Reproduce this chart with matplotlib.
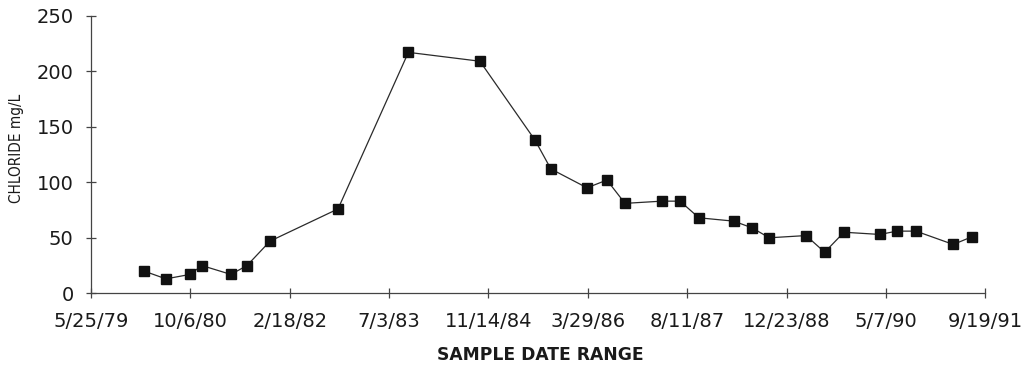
"""Chloride concentration over the sample date range."""

import pandas as pd
import matplotlib
matplotlib.use("Agg")
import matplotlib.pyplot as plt

# sample dates and chloride readings (mg/L)
sample_dates = [
    "1980-02-16", "1980-06-05", "1980-10-04", "1980-12-03", "1981-04-28",
    "1981-07-18", "1981-11-11", "1982-10-19", "1983-10-08", "1984-10-02",
    "1985-07-06", "1985-09-24", "1986-03-25", "1986-07-03", "1986-10-02",
    "1987-04-06", "1987-07-06", "1987-10-09", "1988-04-01", "1988-07-02",
    "1988-09-27", "1989-03-31", "1989-07-03", "1989-10-08", "1990-04-07",
    "1990-07-01", "1990-10-05", "1991-04-11", "1991-07-15",
]
chloride = [
    20, 13, 17, 25, 17,
    25, 47, 76, 217, 209,
    138, 112, 95, 102, 81,
    83, 83, 68, 65, 59,
    50, 52, 37, 55, 53,
    56, 56, 44, 51,
]

tick_dates = [
    "1979-05-25", "1980-10-06", "1982-02-18", "1983-07-03", "1984-11-14",
    "1986-03-29", "1987-08-11", "1988-12-23", "1990-05-07", "1991-09-19",
]
tick_labels = [
    "5/25/79", "10/6/80", "2/18/82", "7/3/83", "11/14/84",
    "3/29/86", "8/11/87", "12/23/88", "5/7/90", "9/19/91",
]
y_ticks = [0, 50, 100, 150, 200, 250]

x = pd.to_datetime(sample_dates)
xt = pd.to_datetime(tick_dates)

fig = plt.figure(figsize=(10.33, 3.67), dpi=100)
ax = fig.add_axes([0.0881, 0.2008, 0.9538 - 0.0881, 0.9572 - 0.2008])

ax.plot(x, chloride, color="#2a2a2a", linewidth=0.9,
        marker="s", markersize=7.5, markerfacecolor="#111111",
        markeredgecolor="#111111")

ax.set_xlim(xt[0], xt[-1])
ax.set_ylim(0, 250)
ax.set_xticks(xt)
ax.set_xticklabels(tick_labels)
ax.set_yticks(y_ticks)

for side in ["top", "right"]:
    ax.spines[side].set_visible(False)
for side in ["left", "bottom"]:
    ax.spines[side].set_color("#444444")
    ax.spines[side].set_linewidth(0.9)

ax.tick_params(axis="x", direction="inout", length=7, width=0.9,
               color="#444444", pad=10, labelsize=14, labelcolor="#1a1a1a")
ax.tick_params(axis="y", direction="inout", length=7, width=0.9,
               color="#444444", pad=9, labelsize=14, labelcolor="#1a1a1a")

# narrow y title, bold x title, placed as in the scan
fig.text(17 / 1033, 1 - 148 / 367, "CHLORIDE mg/L", rotation=90,
         ha="center", va="center", fontsize=11, family="DejaVu Sans",
         stretch="condensed", color="#1a1a1a")
fig.text(540 / 1033, 1 - 355 / 367, "SAMPLE DATE RANGE", ha="center",
         va="center", fontsize=12.3, fontweight="bold", color="#1a1a1a")

fig.savefig("out.png", dpi=100)
